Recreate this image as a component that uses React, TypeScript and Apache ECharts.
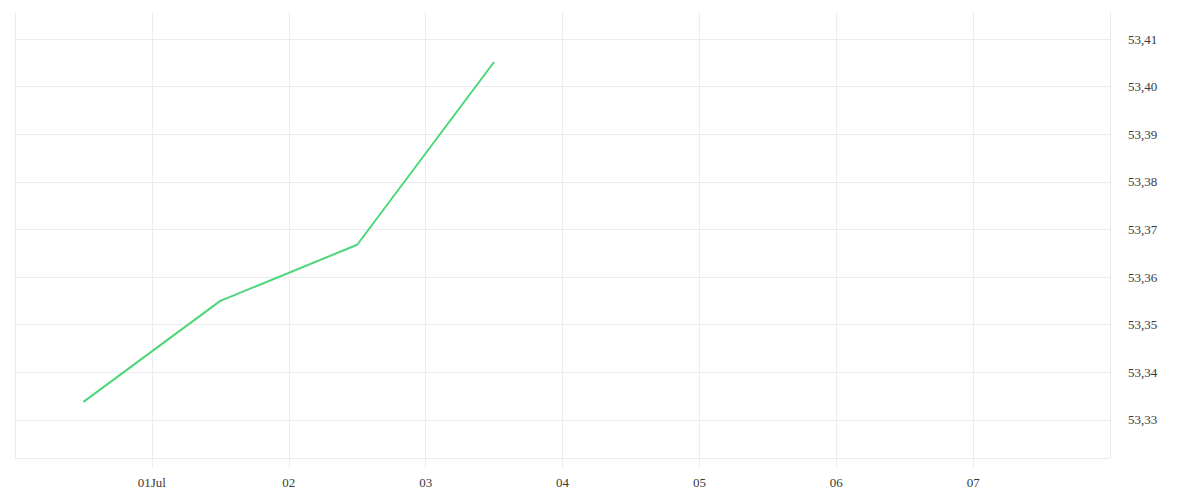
import React, { useEffect, useRef } from "react";
import * as echarts from "echarts";

const DAY = 86400000;
const startDate = "2024-06-30T00:00:00Z";
const endDate = "2024-07-08T00:00:00Z";
const pointDates = [
  "2024-06-30T12:00:00Z",
  "2024-07-01T12:00:00Z",
  "2024-07-02T12:00:00Z",
  "2024-07-03T12:00:00Z",
];
const pointValues = [53.3338, 53.355, 53.3668, 53.4052];
const xTickLabels = ["", "01Jul", "02", "03", "04", "05", "06", "07", ""];
const yTicks = [53.33, 53.34, 53.35, 53.36, 53.37, 53.38, 53.39, 53.4, 53.41];
const yMin = 53.322;
const yMax = 53.4157;

export default function App() {
  const ref = useRef<HTMLDivElement>(null);
  useEffect(() => {
    if (!ref.current) return;
    const chart = echarts.init(ref.current, undefined, { renderer: "svg" });
    const xMin = Date.parse(startDate);
    const xMax = Date.parse(endDate);
    const gridColor = "#ececec";
    const font = "'Liberation Serif', 'DejaVu Serif', serif";
    chart.setOption({
      animation: false,
      backgroundColor: "#ffffff",
      grid: { left: 15, right: 90, top: 12, bottom: 42, containLabel: false },
      xAxis: {
        type: "value",
        min: xMin,
        max: xMax,
        interval: DAY,
        axisLine: { show: true, lineStyle: { color: gridColor, width: 1 } },
        axisTick: { show: true, inside: false, length: 10, lineStyle: { color: gridColor, width: 1 } },
        splitLine: { show: true, lineStyle: { color: gridColor, width: 1 } },
        axisLabel: {
          margin: 18,
          color: "#3a3a3a",
          fontSize: 13,
          fontFamily: font,
          showMinLabel: false,
          showMaxLabel: false,
          formatter: (v: number) => {
            const i = Math.round((v - xMin) / DAY);
            return xTickLabels[i] ?? "";
          },
        },
      },
      yAxis: {
        type: "value",
        position: "right",
        min: yMin,
        max: yMax,
        axisLine: { show: true, lineStyle: { color: gridColor, width: 1 } },
        axisTick: { show: false, customValues: yTicks },
        splitLine: { show: true, lineStyle: { color: gridColor, width: 1 } },
        axisLabel: {
          customValues: yTicks,
          margin: 18,
          padding: [4, 0, 0, 0],
          color: "#3a3a3a",
          fontSize: 13,
          fontFamily: font,
          formatter: (v: number) => v.toFixed(2).replace(".", ","),
        },
      },
      series: [
        {
          type: "line",
          data: pointDates.map((d, i) => [Date.parse(d), pointValues[i]]),
          showSymbol: false,
          symbol: "none",
          lineStyle: { color: "#4cd67a", width: 2 },
        },
      ],
    });
    return () => chart.dispose();
  }, []);
  return (
    <div
      ref={ref}
      style={{ position: "fixed", left: 0, top: 0, width: 1200, height: 500, background: "#fff" }}
    />
  );
}
